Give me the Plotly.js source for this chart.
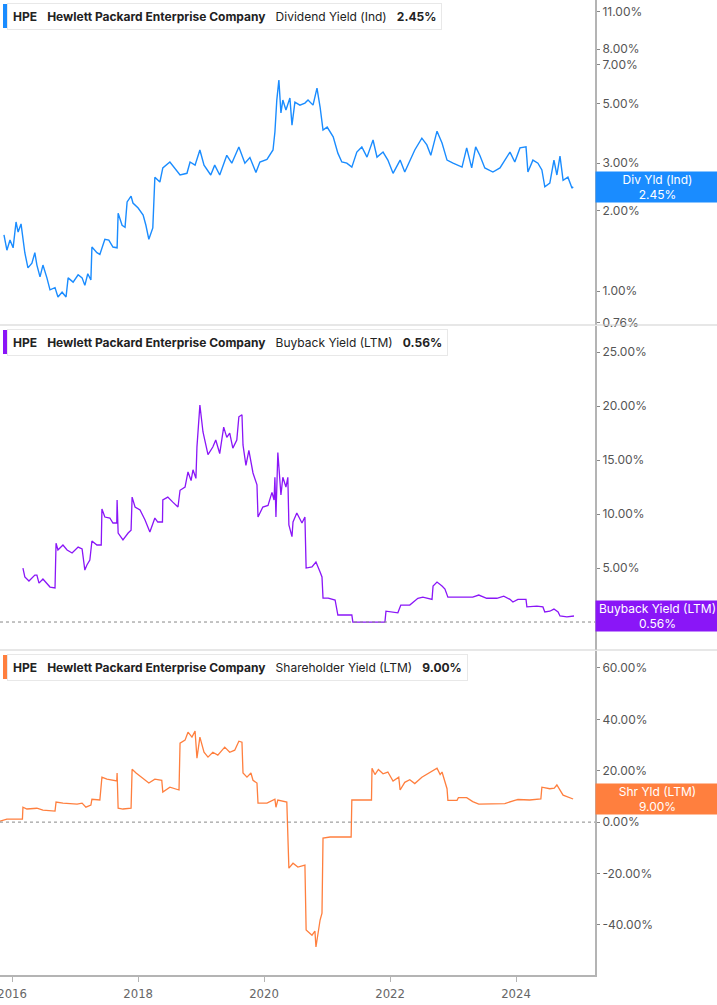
<!DOCTYPE html>
<html>
<head>
<meta charset="utf-8">
<script src="https://cdn.plot.ly/plotly-3.0.1.min.js"></script>
<style>
  html, body { margin: 0; padding: 0; background: #fff; }
  #chart { width: 717px; height: 1005px; }
</style>
</head>
<body>
<div id="chart"></div>
<script>
// HPE yields
const divDates = ["2015-11-15","2015-12-02","2015-12-20","2016-01-07","2016-01-24","2016-02-05","2016-02-22","2016-03-04","2016-03-15","2016-04-02","2016-04-25","2016-05-12","2016-05-24","2016-06-11","2016-06-28","2016-07-21","2016-08-08","2016-09-06","2016-09-23","2016-10-17","2016-11-09","2016-11-21","2016-12-20","2017-01-18","2017-02-10","2017-02-26","2017-03-15","2017-04-02","2017-04-08","2017-05-07","2017-05-24","2017-06-22","2017-07-15","2017-08-08","2017-09-01","2017-09-07","2017-09-30","2017-10-17","2017-10-29","2017-11-21","2017-12-02","2018-01-01","2018-01-30","2018-02-15","2018-03-04","2018-03-27","2018-04-08","2018-05-07","2018-05-24","2018-07-04","2018-08-02","2018-09-01","2018-10-11","2018-10-29","2018-11-27","2018-12-25","2019-01-18","2019-02-26","2019-03-21","2019-04-19","2019-05-30","2019-06-28","2019-08-08","2019-09-12","2019-10-11","2019-11-15","2019-12-08","2020-01-18","2020-02-22","2020-03-04","2020-03-15","2020-03-27","2020-04-08","2020-04-19","2020-05-07","2020-05-30","2020-06-11","2020-06-28","2020-07-27","2020-08-25","2020-09-12","2020-10-11","2020-11-03","2020-11-21","2020-12-08","2021-01-01","2021-02-05","2021-03-04","2021-03-27","2021-04-25","2021-05-24","2021-06-22","2021-07-21","2021-08-20","2021-09-24","2021-10-17","2021-11-21","2021-12-19","2022-01-18","2022-02-28","2022-03-27","2022-04-25","2022-05-24","2022-07-04","2022-08-02","2022-08-25","2022-09-30","2022-10-29","2022-11-27","2023-01-01","2023-01-30","2023-02-22","2023-03-21","2023-04-19","2023-05-12","2023-06-05","2023-07-04","2023-08-20","2023-09-30","2023-10-28","2023-11-27","2023-12-25","2024-01-24","2024-02-28","2024-03-10","2024-04-08","2024-05-07","2024-05-30","2024-06-16","2024-07-15","2024-08-08","2024-08-25","2024-09-12","2024-09-30","2024-10-28","2024-11-21","2024-11-27"];
const divYield = [1.62,1.42,1.55,1.45,1.81,1.66,1.78,1.59,1.39,1.22,1.27,1.39,1.25,1.13,1.25,1.12,1.01,1.03,0.95,0.99,0.95,1.12,1.08,1.15,1.12,1.05,1.16,1.10,1.46,1.39,1.37,1.56,1.55,1.46,1.45,1.95,1.76,1.73,2.15,2.26,2.13,2.04,1.92,1.76,1.56,1.72,2.66,2.55,2.88,3.03,2.88,2.71,2.75,3.03,2.95,3.36,2.95,2.71,2.95,2.71,3.21,3.00,3.45,3.00,3.15,2.77,3.03,3.10,3.36,3.92,5.16,6.13,4.62,5.16,4.74,5.25,4.16,5.07,4.94,5.03,5.16,4.94,5.72,4.86,3.99,4.09,3.76,3.27,3.03,3.00,2.90,3.30,3.45,3.16,3.66,3.16,3.30,3.08,2.75,3.08,2.78,3.08,3.36,3.72,3.51,3.21,3.95,3.57,3.08,3.00,2.95,2.90,3.42,2.88,3.45,3.21,2.88,2.78,2.88,3.08,3.30,3.03,3.42,3.45,2.78,3.08,3.00,2.83,2.45,2.53,3.08,2.71,3.19,2.59,2.66,2.42,2.45];

const buyDates = ["2016-03-04","2016-03-15","2016-04-08","2016-05-12","2016-05-24","2016-06-05","2016-06-28","2016-07-21","2016-08-08","2016-09-06","2016-09-12","2016-09-23","2016-10-22","2016-11-15","2016-12-14","2017-01-18","2017-02-10","2017-02-26","2017-03-10","2017-03-27","2017-04-08","2017-05-07","2017-06-01","2017-06-05","2017-06-22","2017-07-21","2017-08-08","2017-08-30","2017-09-01","2017-09-07","2017-10-05","2017-11-04","2017-11-21","2017-11-27","2017-12-14","2018-01-12","2018-02-10","2018-03-10","2018-04-08","2018-04-25","2018-05-22","2018-05-24","2018-06-22","2018-07-21","2018-08-20","2018-09-01","2018-09-30","2018-10-17","2018-11-04","2018-11-15","2018-12-02","2018-12-08","2018-12-25","2019-01-12","2019-02-10","2019-03-10","2019-03-27","2019-04-19","2019-05-12","2019-05-30","2019-06-16","2019-07-04","2019-07-27","2019-08-08","2019-08-26","2019-09-01","2019-09-18","2019-10-05","2019-10-29","2019-11-21","2019-11-27","2019-12-25","2020-01-24","2020-02-16","2020-02-28","2020-03-04","2020-03-10","2020-03-21","2020-04-08","2020-04-19","2020-05-07","2020-05-18","2020-05-24","2020-06-11","2020-06-17","2020-07-09","2020-08-08","2020-08-25","2020-09-01","2020-10-05","2020-10-28","2020-11-21","2020-12-02","2020-12-08","2021-01-07","2021-02-16","2021-03-04","2021-05-24","2021-05-30","2021-12-02","2021-12-08","2022-02-15","2022-03-04","2022-04-25","2022-06-11","2022-07-10","2022-09-01","2022-09-07","2022-09-30","2022-10-29","2022-11-15","2022-12-02","2023-01-24","2023-03-21","2023-04-25","2023-05-30","2023-07-15","2023-09-12","2023-10-22","2023-11-27","2023-12-14","2024-01-12","2024-02-28","2024-03-04","2024-05-01","2024-06-05","2024-06-16","2024-07-15","2024-08-08","2024-09-01","2024-09-12","2024-10-22","2024-12-02"];
const buyYield = [5.0,4.17,3.8,4.35,4.35,3.6,3.98,3.52,3.24,3.15,7.3,6.67,7.13,6.67,6.39,6.94,6.76,4.81,5.28,5.74,7.5,7.13,7.13,10.46,9.72,9.63,9.17,9.17,11.3,8.24,7.6,8.24,8.5,11.57,10.65,10.37,9.44,8.33,9.63,9.26,9.26,11.3,11.57,11.1,10.65,12.2,12.5,13.9,13.1,14.1,13.3,16.2,20.1,17.6,15.5,16.2,16.85,15.6,18.05,17.1,17.5,16.1,16.85,19.0,19.2,16.4,14.5,15.9,13.8,12.7,9.72,10.65,10.8,12.0,11.3,13.4,9.72,15.7,11.76,13.4,12.5,13.4,9.0,7.9,9.26,10.1,9.17,9.72,5.0,5.1,5.56,4.63,4.17,2.22,2.22,2.04,0.65,0.65,0.0,0.0,1.0,0.85,1.57,1.57,2.2,2.3,2.1,3.33,3.7,3.33,3.05,2.3,2.3,2.3,2.3,2.5,2.2,2.2,2.4,2.1,1.85,2.1,2.1,1.4,1.48,1.4,0.93,1.0,1.2,0.93,0.56,0.48,0.56];

const shrDates = ["2015-10-23","2015-12-02","2016-03-01","2016-03-04","2016-03-27","2016-05-24","2016-06-28","2016-09-06","2016-09-12","2016-10-22","2017-01-12","2017-02-10","2017-03-04","2017-04-02","2017-04-08","2017-05-24","2017-06-05","2017-07-04","2017-08-30","2017-09-01","2017-09-07","2017-10-05","2017-11-21","2017-11-27","2017-12-20","2018-01-30","2018-03-04","2018-04-08","2018-05-18","2018-05-24","2018-07-04","2018-08-26","2018-09-01","2018-09-30","2018-10-17","2018-11-09","2018-11-27","2018-12-08","2018-12-25","2019-01-18","2019-02-10","2019-03-10","2019-04-08","2019-05-18","2019-06-16","2019-07-15","2019-08-08","2019-08-26","2019-09-01","2019-09-24","2019-10-17","2019-10-29","2019-11-21","2019-11-27","2020-01-18","2020-03-04","2020-03-10","2020-03-21","2020-05-12","2020-05-24","2020-06-17","2020-07-15","2020-08-25","2020-09-01","2020-10-05","2020-10-22","2020-10-28","2020-11-21","2020-12-02","2020-12-08","2021-01-18","2021-05-20","2021-05-24","2021-09-15","2021-09-18","2021-10-05","2021-10-25","2021-11-21","2021-12-19","2022-01-18","2022-02-20","2022-02-28","2022-03-27","2022-04-25","2022-05-24","2022-07-04","2022-08-10","2022-09-30","2022-10-18","2022-10-29","2022-11-27","2022-12-02","2023-01-24","2023-02-01","2023-03-21","2023-04-25","2023-05-30","2023-07-04","2023-10-28","2023-12-25","2024-01-12","2024-03-20","2024-05-24","2024-05-30","2024-07-15","2024-08-10","2024-08-25","2024-09-30","2024-11-27"];
const shrYield = [0.4,1.2,1.2,5.8,5.1,5.4,4.7,4.3,7.8,7.4,7.0,7.4,5.8,6.6,8.9,8.6,17.5,16.7,16.0,19.1,5.4,5.1,5.4,20.6,19.1,17.1,15.2,16.7,16.3,11.7,13.6,12.5,30.7,31.9,35.0,33.1,35.4,24.9,33.1,27.2,25.3,27.2,26.1,29.2,27.2,28.0,31.5,31.1,19.1,17.5,19.1,16.3,15.2,7.4,7.4,8.9,5.8,8.6,7.8,-17.9,-16.0,-17.5,-16.7,-42.0,-44.0,-42.4,-48.6,-38.1,-35.4,-6.2,-5.8,-5.8,8.6,8.6,21.0,18.5,20.5,18.8,19.5,16.0,17.5,12.5,15.5,16.5,15.0,17.5,19.0,21.0,18.5,19.5,13.0,8.5,8.5,9.5,9.5,8.0,7.0,7.0,7.2,8.5,8.8,8.6,9.0,13.6,13.0,13.2,14.5,10.5,9.0];

const yearTicks = ["2016-01-01","2018-01-01","2020-01-01","2022-01-01","2024-01-01"];
const yearLabels = ["2016","2018","2020","2022","2024"];
const divTicks = [0.76, 1, 2, 3, 5, 7, 8, 11];
const divTickText = ["0.76%","1.00%","2.00%","3.00%","5.00%","7.00%","8.00%","11.00%"];
const buyTicks = [0, 5, 10, 15, 20, 25];
const buyTickText = ["0.00%","5.00%","10.00%","15.00%","20.00%","25.00%"];
const shrTicks = [-40, -20, 0, 20, 40, 60];
const shrTickText = ["-40.00%","-20.00%","0.00%","20.00%","40.00%","60.00%"];

const BLUE = "#1a8cff", PURPLE = "#8a16f7", ORANGE = "#ff7f3e";
const FONT = "Inter, 'Open Sans', sans-serif";
const H = 975, W = 595; // plot area in px

const last = a => a[a.length - 1];

const traces = [
  { x: divDates, y: divYield, yaxis: "y", type: "scatter", mode: "lines", line: { color: BLUE, width: 1.4 }, hoverinfo: "skip" },
  { x: buyDates, y: buyYield, yaxis: "y2", type: "scatter", mode: "lines", line: { color: PURPLE, width: 1.3 }, hoverinfo: "skip" },
  { x: shrDates, y: shrYield, yaxis: "y3", type: "scatter", mode: "lines", line: { color: ORANGE, width: 1.3 }, hoverinfo: "skip" }
];

function yAxis(domain, extra) {
  return Object.assign({
    domain: domain, anchor: "x", side: "right",
    showline: true, linecolor: "#b4b4b4", linewidth: 2,
    ticks: "outside", ticklen: 3, tickcolor: "#888", tickwidth: 1,
    showgrid: false, zeroline: false,
    tickfont: { family: FONT, size: 12, color: "#555" }
  }, extra);
}

function legendBox(topPx, color, metric, value) {
  return {
    ann: {
      xref: "paper", yref: "paper", x: 7 / W, y: 1 - topPx / H,
      xanchor: "left", yanchor: "top", showarrow: false, align: "left",
      text: "<b>HPE</b>&nbsp;&nbsp;&nbsp;<b>Hewlett Packard Enterprise Company</b>&nbsp;&nbsp;&nbsp;" + metric + "&nbsp;&nbsp;&nbsp;<b>" + value + "</b>",
      bgcolor: "#fff", bordercolor: "#e8e8e8", borderwidth: 1, borderpad: 5,
      font: { family: FONT, size: 12, color: "#222" }
    },
    bar: {
      type: "rect", xref: "paper", yref: "paper",
      x0: 3 / W, x1: 7 / W, y0: 1 - (topPx + 25) / H, y1: 1 - (topPx + 1) / H,
      fillcolor: color, line: { width: 0 }
    }
  };
}

function valueBox(yref, yVal, color, label, value) {
  return {
    xref: "paper", yref: yref, x: 1, y: yVal, xanchor: "left", yanchor: "middle",
    showarrow: false, text: label + "<br>" + value, align: "center",
    bgcolor: color, width: 121, height: 28, borderpad: 1,
    font: { family: FONT, size: 12, color: "#fff" }
  };
}

const lg1 = legendBox(3, BLUE, "Dividend Yield (Ind)", last(divYield).toFixed(2) + "%");
const lg2 = legendBox(329, PURPLE, "Buyback Yield (LTM)", last(buyYield).toFixed(2) + "%");
const lg3 = legendBox(654, ORANGE, "Shareholder Yield (LTM)", last(shrYield).toFixed(2) + "%");

const layout = {
  width: 717, height: 1005,
  margin: { l: 0, r: 122, t: 0, b: 30 },
  paper_bgcolor: "#fff", plot_bgcolor: "#fff",
  showlegend: false,
  xaxis: {
    type: "date", range: ["2015-10-23", "2025-04-03"], anchor: "y3",
    showline: true, linecolor: "#b4b4b4", linewidth: 2,
    ticks: "outside", ticklen: 5, tickcolor: "#b4b4b4",
    tickvals: yearTicks, ticktext: yearLabels, ticklabeloverflow: "allow",
    tickfont: { family: "'DejaVu Sans Condensed', 'Liberation Sans Narrow', sans-serif", size: 13, color: "#666" },
    showgrid: false, zeroline: false
  },
  yaxis: yAxis([650 / H, 1], { type: "log", range: [-0.1267, 1.086], tickvals: divTicks, ticktext: divTickText }),
  yaxis2: yAxis([1 - 650 / H, 1 - 326 / H], { range: [-2.59, 27.41], tickvals: buyTicks, ticktext: buyTickText }),
  yaxis3: yAxis([0, 1 - 651 / H], { range: [-59.5, 66.6], tickvals: shrTicks, ticktext: shrTickText }),
  shapes: [
    { type: "line", xref: "paper", yref: "paper", x0: 0, x1: 717 / W, y0: 1 - 325 / H, y1: 1 - 325 / H, line: { color: "#cfcfcf", width: 1 } },
    { type: "line", xref: "paper", yref: "paper", x0: 0, x1: 717 / W, y0: 1 - 650 / H, y1: 1 - 650 / H, line: { color: "#cfcfcf", width: 1 } },
    { type: "line", xref: "paper", yref: "y2", x0: 0, x1: 1, y0: 0, y1: 0, line: { color: "#888", width: 1, dash: "dot" } },
    { type: "line", xref: "paper", yref: "y3", x0: 0, x1: 1, y0: 0, y1: 0, line: { color: "#888", width: 1, dash: "dot" } },
    lg1.bar, lg2.bar, lg3.bar
  ],
  annotations: [
    lg1.ann, lg2.ann, lg3.ann,
    valueBox("y", Math.log10(last(divYield)), BLUE, "Div Yld (Ind)", last(divYield).toFixed(2) + "%"),
    valueBox("y2", last(buyYield), PURPLE, "Buyback Yield (LTM)", last(buyYield).toFixed(2) + "%"),
    valueBox("y3", last(shrYield), ORANGE, "Shr Yld (LTM)", last(shrYield).toFixed(2) + "%")
  ]
};

Plotly.newPlot("chart", traces, layout, { displayModeBar: false, staticPlot: true });
</script>
</body>
</html>
